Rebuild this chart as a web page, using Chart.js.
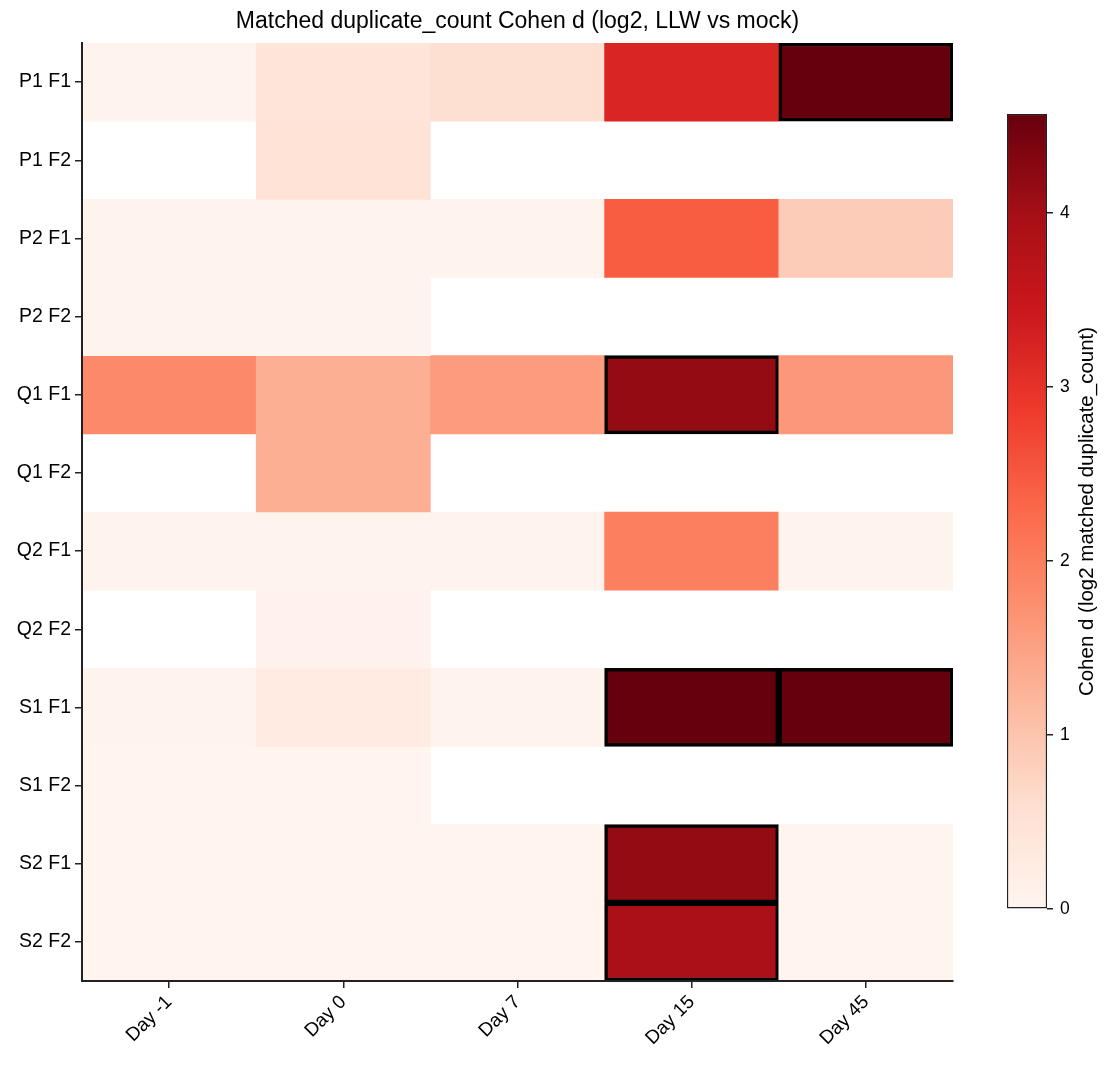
<!DOCTYPE html>
<html>
<head>
<meta charset="utf-8">
<script src="https://cdn.jsdelivr.net/npm/chart.js@4.4.1/dist/chart.umd.min.js"></script>
<style>
  body { margin: 0; background: #fff; }
  #wrap { position: relative; width: 1114px; height: 1065px; }
  #heat { position: absolute; left: 0; top: 0; }
  #cbar { position: absolute; left: 960px; top: 0; }
</style>
</head>
<body>
<div id="wrap">
  <canvas id="heat" width="1114" height="1065"></canvas>
  <canvas id="cbar" width="154" height="1065"></canvas>
</div>
<script>
var rows = ['P1 F1', 'P1 F2', 'P2 F1', 'P2 F2', 'Q1 F1', 'Q1 F2', 'Q2 F1', 'Q2 F2', 'S1 F1', 'S1 F2', 'S2 F1', 'S2 F2'];
var days = ['Day -1', 'Day 0', 'Day 7', 'Day 15', 'Day 45'];

// Cohen d per day, one value per row (null = no data)
var dayM1 = [0.05, null, 0.05, 0.05, 1.83, null, 0.05, null, 0.05, 0.03, 0.03, 0.03];
var day0  = [0.43, 0.50, 0.05, 0.05, 1.31, 1.31, 0.05, 0.07, 0.28, 0.03, 0.03, 0.03];
var day7  = [0.56, null, 0.05, null, 1.58, null, 0.05, null, 0.05, null, 0.03, 0.03];
var day15 = [3.20, null, 2.45, null, 4.16, null, 1.97, null, 4.57, null, 4.16, 3.93];
var day45 = [4.57, null, 0.88, null, 1.63, null, 0.05, null, 4.57, null, 0.03, 0.03];

// cells outlined in black
var boxedDay15 = ['Q1 F1', 'S1 F1', 'S2 F1', 'S2 F2'];
var boxedDay45 = ['P1 F1', 'S1 F1'];

var vmax = 4.57;
var cbarTicks = [0, 1, 2, 3, 4];

var font = '"Liberation Sans", Arial, sans-serif';

// matplotlib "Reds"
var reds = ['#fff5f0', '#fee0d2', '#fcbba1', '#fc9272', '#fb6a4a', '#ef3b2c', '#cb181d', '#a50f15', '#67000d'];

function hex2rgb(h) {
	return [parseInt(h.substr(1, 2), 16), parseInt(h.substr(3, 2), 16), parseInt(h.substr(5, 2), 16)];
}

function redsColor(v) {
	var t = Math.max(0, Math.min(1, v / vmax)) * (reds.length - 1);
	var i = Math.min(Math.floor(t), reds.length - 2);
	var f = t - i;
	var a = hex2rgb(reds[i]), b = hex2rgb(reds[i + 1]);
	var c = a.map(function(x, k) { return Math.round(x + (b[k] - x) * f); });
	return 'rgb(' + c[0] + ',' + c[1] + ',' + c[2] + ')';
}

var dayValues = [dayM1, day0, day7, day15, day45];
var boxedByDay = [[], [], [], boxedDay15, boxedDay45];

// one dataset per row, floating bars spanning [r, r+1] on the reversed y axis
var datasets = rows.map(function(name, r) {
	var data = [], colors = [], widths = [];
	dayValues.forEach(function(vals, c) {
		var v = vals[r];
		data.push(v === null ? null : [r, r + 1]);
		colors.push(v === null ? 'rgba(0,0,0,0)' : redsColor(v));
		widths.push(boxedByDay[c].indexOf(name) >= 0 ? 3.5 : 0);
	});
	return {
		label: name,
		data: data,
		backgroundColor: colors,
		borderColor: '#000',
		borderWidth: widths,
		borderSkipped: false,
		grouped: false,
		barPercentage: 1,
		categoryPercentage: 1
	};
});

new Chart(document.getElementById('heat'), {
	type: 'bar',
	data: { labels: days, datasets: datasets },
	options: {
		responsive: false,
		animation: false,
		devicePixelRatio: 1,
		layout: { padding: { left: 0, right: 161, top: 0, bottom: 0 } },
		plugins: {
			legend: { display: false },
			tooltip: { enabled: false },
			title: {
				display: true,
				text: 'Matched duplicate_count Cohen d (log2, LLW vs mock)',
				fullSize: false,
				color: '#000',
				font: { family: font, size: 23, weight: 'normal' },
				padding: { top: 8, bottom: 7.4 }
			}
		},
		scales: {
			x: {
				type: 'category',
				grid: { drawOnChartArea: false, offset: false, color: '#222', tickLength: 7, lineWidth: 1.5, z: 1 },
				border: { display: true, color: '#222', width: 2, z: 1 },
				ticks: {
					color: '#000',
					font: { family: font, size: 19 },
					minRotation: 45,
					maxRotation: 45,
					padding: 3
				},
				afterFit: function(scale) { scale.height = 84; }
			},
			y: {
				type: 'linear',
				min: 0,
				max: rows.length,
				reverse: true,
				grid: { drawOnChartArea: false, color: '#222', tickLength: 7, lineWidth: 1.5, z: 1 },
				border: { display: true, color: '#222', width: 2, z: 1 },
				afterBuildTicks: function(axis) {
					axis.ticks = rows.map(function(r, i) { return { value: i + 0.5 }; });
				},
				ticks: {
					autoSkip: false,
					color: '#000',
					font: { family: font, size: 19.5 },
					padding: 4,
					callback: function(value, index) { return rows[index]; }
				},
				afterFit: function(scale) { scale.width = 82; }
			}
		}
	}
});

// colorbar
var cbarLabel = {
	id: 'cbarLabel',
	afterDraw: function(chart) {
		var ctx = chart.ctx, ca = chart.chartArea;
		ctx.save();
		ctx.translate(ca.right + 40, (ca.top + ca.bottom) / 2);
		ctx.rotate(-Math.PI / 2);
		ctx.fillStyle = '#000';
		ctx.font = '20.5px ' + font;
		ctx.textAlign = 'center';
		ctx.textBaseline = 'middle';
		ctx.fillText('Cohen d (log2 matched duplicate_count)', 0, 0);
		ctx.restore();
	}
};

new Chart(document.getElementById('cbar'), {
	type: 'bar',
	data: {
		labels: ['cbar'],
		datasets: [{
			data: [[0, vmax]],
			backgroundColor: function(c) {
				var ca = c.chart.chartArea;
				if (!ca) return reds[4];
				var g = c.chart.ctx.createLinearGradient(0, ca.bottom, 0, ca.top);
				reds.forEach(function(col, i) { g.addColorStop(i / (reds.length - 1), col); });
				return g;
			},
			borderColor: '#222',
			borderWidth: 1.5,
			borderSkipped: false,
			barPercentage: 1,
			categoryPercentage: 1
		}]
	},
	options: {
		responsive: false,
		animation: false,
		devicePixelRatio: 1,
		layout: { padding: { left: 47, right: 0, top: 114, bottom: 156 } },
		plugins: { legend: { display: false }, tooltip: { enabled: false } },
		scales: {
			x: { display: false },
			y: {
				position: 'right',
				min: 0,
				max: vmax,
				grid: { drawOnChartArea: false, color: '#222', tickLength: 6, lineWidth: 1.5 },
				border: { display: false },
				afterBuildTicks: function(axis) {
					axis.ticks = cbarTicks.map(function(v) { return { value: v }; });
				},
				ticks: {
					color: '#000',
					font: { family: font, size: 17.5 },
					padding: 7
				},
				afterFit: function(scale) { scale.width = 67; }
			}
		}
	},
	plugins: [cbarLabel]
});
</script>
</body>
</html>
